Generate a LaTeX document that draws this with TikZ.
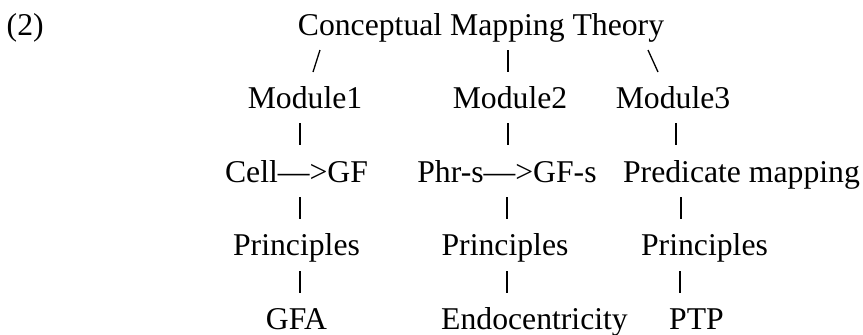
\documentclass[tikz,border=0pt]{standalone}
\usepackage{fontspec}
\setmainfont{Liberation Serif}
\begin{document}
\begin{tikzpicture}[x=1pt,y=-1pt,
  label/.style={inner sep=0pt,anchor=base,font=\fontsize{31.7}{38}\selectfont},
  link/.style={line width=1.3pt,line cap=butt}]
\useasboundingbox (0,0) rectangle (863,335);

% example number
\node[label,anchor=base west] (num) at (6.5,35) {(2)};

% root
\node[label] (cmt) at (481,35) {Conceptual Mapping Theory};

% modules
\node[label] (mod1) at (305,108.5) {Module1};
\node[label] (mod2) at (510,108.5) {Module2};
\node[label] (mod3) at (673,108.5) {Module3};

% mappings
\node[label] (cell) at (296.5,182) {Cell—>GF};
\node[label] (phr)  at (507,182)   {Phr-s—>GF-s};
\node[label] (pred) at (741.5,182) {Predicate mapping};

% principles
\node[label] (prin1) at (296.5,255.5) {Principles};
\node[label] (prin2) at (505,255.5)   {Principles};
\node[label] (prin3) at (704.5,255.5) {Principles};

% leaves
\node[label] (gfa)  at (296.5,329) {GFA};
\node[label] (endo) at (534.5,329) {Endocentricity};
\node[label] (ptp)  at (696.5,329) {PTP};

% root to modules
\draw[link] ([shift={(-161,15)}]cmt.base) -- ([shift={(8,-36.5)}]mod1.base);
\draw[link] ([shift={(27,15)}]cmt.base)   -- ([shift={(-2,-36.5)}]mod2.base);
\draw[link] ([shift={(167,15)}]cmt.base)  -- ([shift={(-15,-36.5)}]mod3.base);

% modules to mappings
\draw[link] ([shift={(-5,14.5)}]mod1.base) -- ([shift={(3.5,-37)}]cell.base);
\draw[link] ([shift={(-2,14.5)}]mod2.base) -- ([shift={(1,-37)}]phr.base);
\draw[link] ([shift={(3,14.5)}]mod3.base)  -- ([shift={(-65.5,-37)}]pred.base);

% mappings to principles
\draw[link] ([shift={(3.5,15)}]cell.base)  -- ([shift={(3.5,-36.5)}]prin1.base);
\draw[link] ([shift={(0,15)}]phr.base)     -- ([shift={(2,-36.5)}]prin2.base);
\draw[link] ([shift={(-60.5,15)}]pred.base) -- ([shift={(-23.5,-36.5)}]prin3.base);

% principles to leaves
\draw[link] ([shift={(3.5,15.5)}]prin1.base)  -- ([shift={(3.5,-36)}]gfa.base);
\draw[link] ([shift={(2,15.5)}]prin2.base)    -- ([shift={(-27.5,-36)}]endo.base);
\draw[link] ([shift={(-24.5,15.5)}]prin3.base) -- ([shift={(-16.5,-36)}]ptp.base);
\end{tikzpicture}
\end{document}
